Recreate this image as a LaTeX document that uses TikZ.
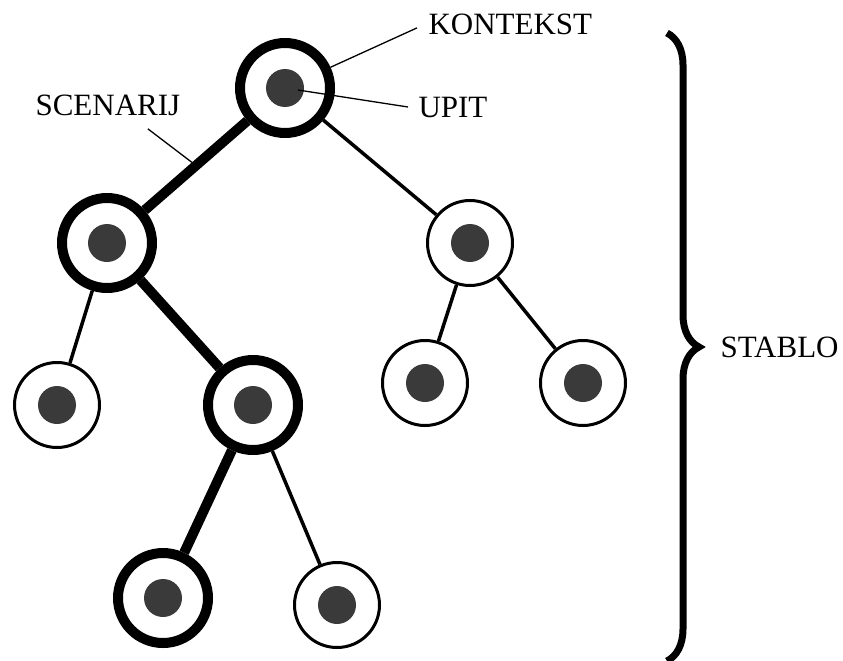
\documentclass[tikz,border=0pt]{standalone}
\usepackage{fontspec}
\setmainfont{Liberation Serif}
\usetikzlibrary{decorations.pathreplacing}
\definecolor{dotgray}{HTML}{3A3A3A}

\begin{document}
\begin{tikzpicture}[x=1pt, y=-1pt,
    scen/.style={circle, draw, fill=white, line width=10pt, minimum size=90pt, inner sep=0pt},
    plain/.style={circle, draw, fill=white, line width=3pt, minimum size=85pt, inner sep=0pt},
    thickedge/.style={line width=10pt},
    thinedge/.style={line width=3.5pt},
    lbl/.style={anchor=base west, font={\fontsize{31}{37}\selectfont}},
    pointer/.style={line width=1.3pt}]
    \useasboundingbox (0,0) rectangle (843,661);

    % tree
    \node[scen]  (root) at (285,88)  {};
    \node[scen]  (l)    at (107,243) {};
    \node[plain] (r)    at (470,243) {};
    \node[plain] (ll)   at (57,405)  {};
    \node[scen]  (lr)   at (253,405) {};
    \node[plain] (rl)   at (425,383) {};
    \node[plain] (rr)   at (583,383) {};
    \node[scen]  (lrl)  at (163,598) {};
    \node[plain] (lrr)  at (337,605) {};

    \draw[thickedge] (root) -- (l) coordinate[midway] (scen);
    \draw[thickedge] (l) -- (lr);
    \draw[thickedge] (lr) -- (lrl);
    \draw[thinedge] (root) -- (r);
    \draw[thinedge] (l) -- (ll);
    \draw[thinedge] (lr) -- (lrr);
    \draw[thinedge] (r) -- (rl);
    \draw[thinedge] (r) -- (rr);

    \foreach \n in {root, l, r, ll, lr, rl, rr, lrl, lrr}
        \fill[dotgray] (\n) circle[radius=19pt];

    % labels
    \node[lbl] (kontekst) at (425,35)  {KONTEKST};
    \node[lbl] (upit)     at (415,117) {UPIT};
    \node[lbl] (scenarij) at (32,115)  {SCENARIJ};
    \node[lbl] (stablo)   at (717,357) {STABLO};

    \draw[pointer] ([xshift=-8pt,yshift=-3pt]kontekst.west) -- (root);
    \draw[pointer, shorten >=13pt] ([xshift=-7pt]upit.west) -- (root.center);
    \draw[pointer] ([xshift=40pt,yshift=-10pt]scenarij.south) -- (scen);

    \draw[decorate, decoration={brace, amplitude=32pt}, line width=7pt]
        (667,33) -- (667,661);
\end{tikzpicture}
\end{document}
